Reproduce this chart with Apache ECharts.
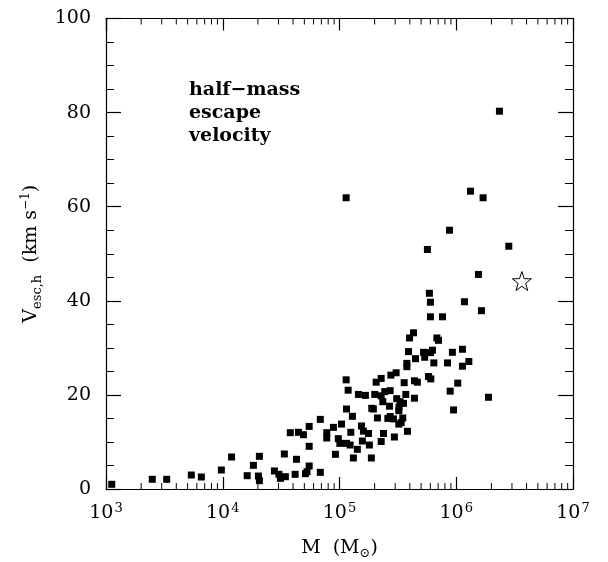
<!DOCTYPE html>
<html><head><meta charset="utf-8">
<script src="https://cdn.jsdelivr.net/npm/echarts@6/dist/echarts.min.js"></script>
<style>html,body{margin:0;padding:0;background:#fff}#c{width:608px;height:562px}</style>
</head><body><div id="c"></div>
<script>
// Cluster masses (Msun) and half-mass escape velocities (km/s)
const massValues = [1120,2490,3310,5380,6560,9730,11900,16200,18300,20200,20600,20600,27700,30300,31200,34400,33700,37900,42800,41700,44500,49100,51100,52700,55000,55000,55000,68500,68500,77800,77800,88700,92300,97700,100700,104000,114800,114000,118600,114800,129000,125000,123300,131500,142200,145200,166700,154200,160300,177000,157000,180300,187500,188800,195000,206100,227500,211300,200400,227500,235000,244300,271600,238200,227500,267900,259400,275400,305500,295100,271600,289700,309000,323600,330400,353200,322100,348300,322100,337300,358100,369800,377600,377600,382000,390000,438500,447700,438500,464500,398100,430500,524800,537000,601000,625200,642700,578100,605300,682300,704700,601000,762100,601000,1175000,1644000,841400,926800,1130000,1282000,1130000,1030000,887200,948400,1888000,2344000,114000,1324000,1698000,875000,566200,2818000,1549000,588800];
const vescValues = [1.0,2.06,2.06,2.97,2.55,4.04,6.8,2.83,5.03,2.76,1.77,6.94,3.83,3.12,2.27,2.62,7.44,11.97,6.31,3.12,12.05,11.54,3.25,3.68,4.89,13.3,9.07,14.8,3.54,11.97,10.84,13.1,7.37,10.7,9.7,13.8,9.7,23.2,21.0,17.0,15.45,12.05,9.35,6.59,8.43,20.1,19.9,13.4,12.3,11.8,10.2,9.35,6.59,17.15,17.0,22.7,23.5,15.1,20.1,19.8,18.55,20.7,20.9,11.8,10.1,17.6,15.0,24.2,24.7,11.05,15.4,14.9,19.2,17.4,18.55,18.2,16.65,15.1,13.8,14.1,22.6,20.1,26.7,26.0,12.26,29.2,19.3,27.7,23.0,22.7,32.1,33.2,29.05,28.0,29.0,29.5,26.8,23.9,23.4,32.1,31.6,36.6,36.6,39.7,39.8,37.9,26.8,29.05,29.7,27.1,26.1,22.5,20.8,16.8,19.5,80.3,61.9,63.3,61.9,55.0,50.9,51.6,45.6,41.6];
// Starred object
const starMass = [3648000];
const starVesc = [44.2];
// Axis tick values
const xMinorTicks = [2e3,3e3,4e3,5e3,6e3,7e3,8e3,9e3,2e4,3e4,4e4,5e4,6e4,7e4,8e4,9e4,2e5,3e5,4e5,5e5,6e5,7e5,8e5,9e5,2e6,3e6,4e6,5e6,6e6,7e6,8e6,9e6];
const noteLines = ['half\u2212mass','escape','velocity'];

const pts = massValues.map((m,i)=>[m, vescValues[i]]);
const starPts = starMass.map((m,i)=>[m, starVesc[i]]);
const FONT = 'DejaVu Serif';

function xAxisOpt(pos, labels){
  const o = {
    type:'log', min:1e3, max:1e7, position:pos,
    axisLine:{show:true, onZero:false, lineStyle:{color:'#000', width:1.2}},
    splitLine:{show:false},
    axisTick:{show:true, inside:true, length:12, lineStyle:{color:'#000', width:1.2}},
    axisLabel:{show:true, formatter:function(){return '';}}
  };
  if (labels){
    o.name = 'M  (M{sub|\u2299})';
    o.nameLocation = 'middle';
    o.nameGap = 48;
    o.nameTextStyle = {fontFamily:FONT, fontSize:19, color:'#000',
      rich:{sub:{fontFamily:FONT, fontSize:13, color:'#000', padding:[10,0,0,0]}}};
    o.axisLabel = {show:true, margin:13, color:'#000',
      formatter:function(v){return '{a|10}{b|'+Math.round(Math.log(v)/Math.LN10)+'}';},
      rich:{a:{fontFamily:FONT, fontSize:19, color:'#000'},
            b:{fontFamily:FONT, fontSize:13, color:'#000', padding:[0,0,10,1]}}};
  }
  return o;
}
function yAxisOpt(pos, labels){
  const o = {
    type:'value', min:0, max:100, interval:20, position:pos,
    axisLine:{show:true, onZero:false, lineStyle:{color:'#000', width:1.2}},
    splitLine:{show:false},
    axisTick:{show:true, inside:true, length:15, lineStyle:{color:'#000', width:1.2}},
    minorTick:{show:true, splitNumber:4, length:8, lineStyle:{color:'#000', width:1}},
    axisLabel:{show:true, formatter:function(){return '';}}
  };
  if (labels){
    o.name = 'V{sub|esc,h}  (km s{sup|\u22121})';
    o.nameLocation = 'middle';
    o.nameGap = 62;
    o.nameRotate = 90;
    o.nameTextStyle = {fontFamily:FONT, fontSize:19, color:'#000',
      rich:{sub:{fontFamily:FONT, fontSize:13, color:'#000', padding:[12,0,0,0]},
            sup:{fontFamily:FONT, fontSize:12, color:'#000', padding:[0,0,10,0]}}};
    o.axisLabel = {show:true, margin:15, color:'#000', fontFamily:FONT, fontSize:19};
  }
  return o;
}

const chart = echarts.init(document.getElementById('c'));
chart.setOption({
  animation:false,
  grid:{left:106, right:35, top:18.5, bottom:73, outerBoundsMode:'none'},
  xAxis:[xAxisOpt('bottom', true), xAxisOpt('top', false)],
  yAxis:[yAxisOpt('left', true), yAxisOpt('right', false)],
  graphic:[{
    type:'text', left:189, top:79, silent:true,
    style:{text:noteLines.join('\n'), fontFamily:FONT, fontWeight:'bold', fontSize:19, lineHeight:23, fill:'#000'}
  }],
  series:[
    {type:'scatter', data:pts, symbol:'rect', symbolSize:7, itemStyle:{color:'#000', opacity:1}, z:3},
    {type:'scatter', data:starPts, symbol:'path://M0,-10 L2.35,-3.24 L9.51,-3.09 L3.8,1.24 L5.88,8.09 L0,4 L-5.88,8.09 L-3.8,1.24 L-9.51,-3.09 L-2.35,-3.24 Z',
      symbolSize:19, itemStyle:{color:'#fff', borderColor:'#000', borderWidth:1, opacity:1}, z:3},
    {type:'custom', clip:false, z:4, data:xMinorTicks.map(v=>[v]),
      renderItem:function(params, api){
        const m = api.value(0);
        const b = api.coord([m, 0]);
        const t = api.coord([m, 100]);
        return {type:'group', children:[
          {type:'line', shape:{x1:b[0], y1:b[1], x2:b[0], y2:b[1]-6}, style:{stroke:'#000', lineWidth:1}},
          {type:'line', shape:{x1:t[0], y1:t[1], x2:t[0], y2:t[1]+6}, style:{stroke:'#000', lineWidth:1}}
        ]};
      }}
  ]
});
</script></body></html>
